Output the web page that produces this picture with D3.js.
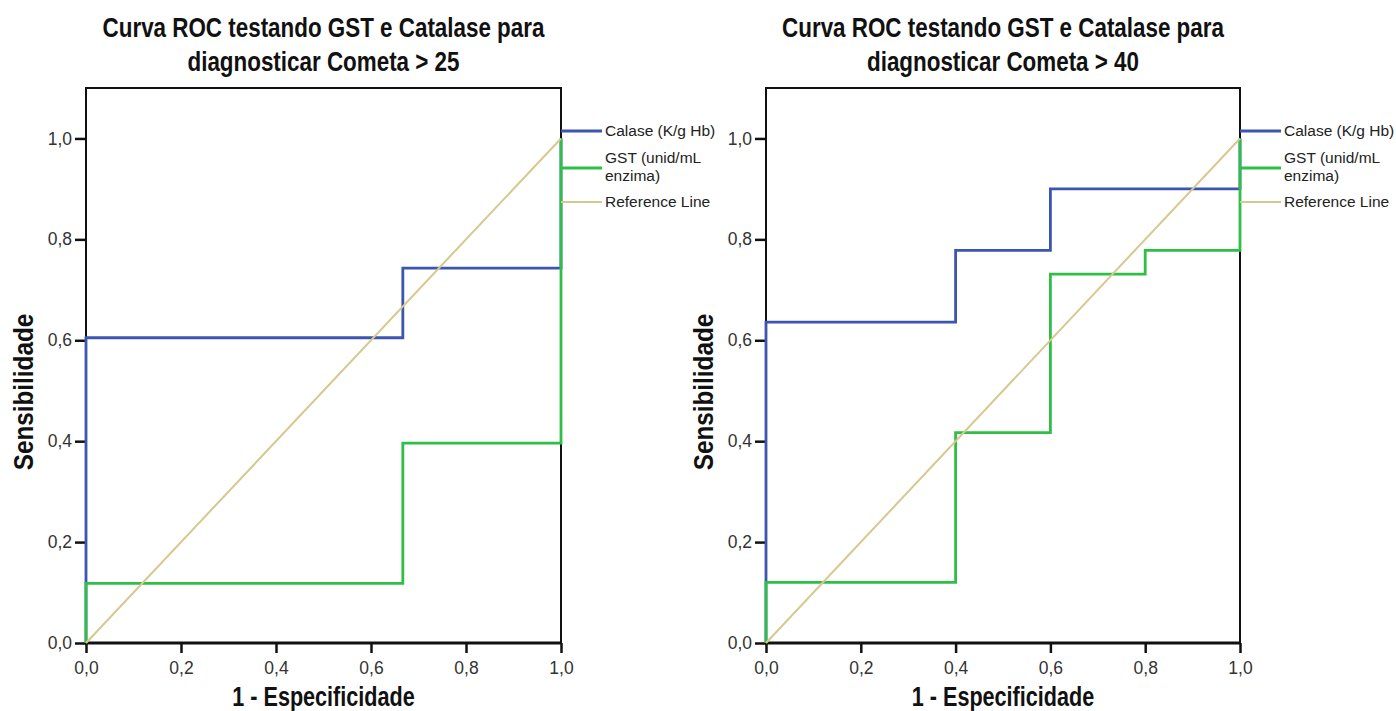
<!DOCTYPE html>
<html>
<head>
<meta charset="utf-8">
<script src="https://cdn.jsdelivr.net/npm/d3@7"></script>
<style>
  body { margin: 0; background: #fff; }
  .tick-label { font-family: "Liberation Sans", Arial, sans-serif; font-size: 17.5px; fill: #333; }
  .title { font-family: "Liberation Sans", Arial, sans-serif; font-weight: bold; font-size: 27px; fill: #111; }
  .legend-label { font-family: "Liberation Sans", Arial, sans-serif; font-size: 15.5px; fill: #222; }
</style>
</head>
<body>
<svg id="chart" width="1396" height="711"></svg>
<script>
const xTicks = [0, 0.2, 0.4, 0.6, 0.8, 1.0];
const yTicks = [0, 0.2, 0.4, 0.6, 0.8, 1.0];
const legendNames = [["Calase (K/g Hb)"], ["GST (unid/mL", "enzima)"], ["Reference Line"]];

const title25 = ["Curva ROC testando GST e Catalase para", "diagnosticar Cometa > 25"];
const title40 = ["Curva ROC testando GST e Catalase para", "diagnosticar Cometa > 40"];
const xTitle = "1 - Especificidade";
const yTitle = "Sensibilidade";

// ROC points, 1 - specificity and sensitivity
const calase25Fpr = [0, 0, 0.667, 0.667, 1, 1];
const calase25Tpr = [0, 0.605, 0.605, 0.743, 0.743, 1];
const gst25Fpr = [0, 0, 0.667, 0.667, 1, 1];
const gst25Tpr = [0, 0.118, 0.118, 0.396, 0.396, 1];

const calase40Fpr = [0, 0, 0.4, 0.4, 0.6, 0.6, 1, 1];
const calase40Tpr = [0, 0.636, 0.636, 0.778, 0.778, 0.9, 0.9, 1];
const gst40Fpr = [0, 0, 0.4, 0.4, 0.6, 0.6, 0.8, 0.8, 1, 1];
const gst40Tpr = [0, 0.12, 0.12, 0.417, 0.417, 0.731, 0.731, 0.778, 0.778, 1];

const refFpr = [0, 1];
const refTpr = [0, 1];

const colors = ["#3b55b0", "#2fbf47", "#d6c88e"];

const svg = d3.select("#chart");
svg.append("rect").attr("width", 1396).attr("height", 711).attr("fill", "#fff");

function zip(xs, ys) {
  return xs.map((x, i) => [x, ys[i]]);
}

// no condensed bold font installed, so squeeze the text horizontally
function squeezedText(g, txt, x, y, sx, rotate) {
  return g.append("text").attr("class", "title")
    .attr("transform", `translate(${x},${y})` + (rotate ? " rotate(-90)" : "") + ` scale(${sx},1)`)
    .attr("text-anchor", "middle")
    .text(txt);
}

function drawPanel(left, right, titleLines, series) {
  const top = 88, bottom = 643;
  const x = d3.scaleLinear().domain([0, 1]).range([left, right]);
  const y = d3.scaleLinear().domain([0, 1.1]).range([bottom, top]);
  const cx = (left + right) / 2;

  const g = svg.append("g");

  // titles
  titleLines.forEach((t, i) => {
    squeezedText(g, t, cx, 37 + i * 34, 0.83, false);
  });

  // frame
  g.append("rect")
    .attr("x", left).attr("y", top)
    .attr("width", right - left).attr("height", bottom - top)
    .attr("fill", "none").attr("stroke", "#111").attr("stroke-width", 2);

  // axes
  const fmt = d => d3.format(".1f")(d).replace(".", ",");
  const xAxis = d3.axisBottom(x).tickValues(xTicks).tickSize(10).tickPadding(9).tickFormat(fmt);
  const yAxis = d3.axisLeft(y).tickValues(yTicks).tickSize(11).tickPadding(3).tickFormat(fmt);

  const gx = g.append("g").attr("transform", `translate(0,${bottom})`).call(xAxis);
  const gy = g.append("g").attr("transform", `translate(${left},0)`).call(yAxis);
  [gx, gy].forEach(a => {
    a.select(".domain").remove();
    a.selectAll(".tick line").attr("stroke", "#111").attr("stroke-width", 2.5);
    a.selectAll(".tick text").attr("class", "tick-label").attr("font-size", null).attr("font-family", null);
  });
  g.append("line")
    .attr("x1", left - 1).attr("x2", right + 1)
    .attr("y1", bottom).attr("y2", bottom)
    .attr("stroke", "#111").attr("stroke-width", 3);

  // curves
  const line = d3.line().x(d => x(d[0])).y(d => y(d[1]));
  series.forEach((s, i) => {
    g.append("path")
      .datum(zip(s[0], s[1]))
      .attr("d", line)
      .attr("fill", "none")
      .attr("stroke", colors[i])
      .attr("stroke-width", i === 2 ? 2 : 2.8)
      .attr("stroke-linejoin", "miter");
  });

  // legend
  const legendY = [131, 168, 202];
  legendNames.forEach((lines, i) => {
    g.append("line")
      .attr("x1", right).attr("x2", right + 41)
      .attr("y1", legendY[i]).attr("y2", legendY[i])
      .attr("stroke", colors[i]).attr("stroke-width", i === 2 ? 2 : 2.8);
    const n = lines.length;
    lines.forEach((t, j) => {
      g.append("text").attr("class", "legend-label")
        .attr("x", right + 44)
        .attr("y", legendY[i] + (j - (n - 1) / 2) * 18 - (n > 1 ? 1 : 0))
        .attr("dy", "0.35em")
        .text(t);
    });
  });

  // axis titles
  squeezedText(g, xTitle, cx, 706, 0.8, false);
  squeezedText(g, yTitle, left - 53, 392, 0.9, true).attr("font-size", 29);
}

drawPanel(86, 561, title25, [
  [calase25Fpr, calase25Tpr],
  [gst25Fpr, gst25Tpr],
  [refFpr, refTpr]
]);

drawPanel(766, 1240, title40, [
  [calase40Fpr, calase40Tpr],
  [gst40Fpr, gst40Tpr],
  [refFpr, refTpr]
]);
</script>
</body>
</html>
